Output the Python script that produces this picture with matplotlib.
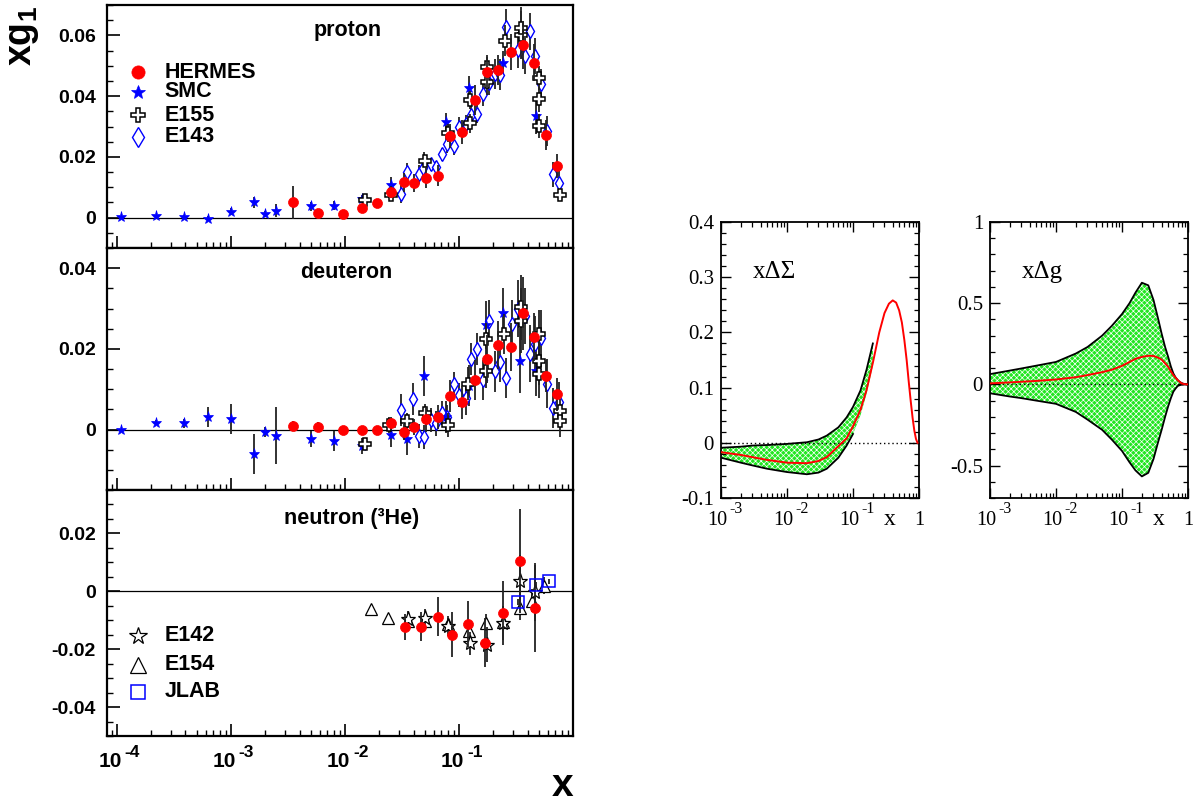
import numpy as np
import matplotlib
matplotlib.use('Agg')
import matplotlib.pyplot as plt
import matplotlib.transforms as mtransforms
from matplotlib.ticker import LogLocator, MultipleLocator, NullFormatter

plt.rcParams['font.family'] = ['Liberation Sans', 'DejaVu Sans']
plt.rcParams['mathtext.fontset'] = 'custom'
plt.rcParams['mathtext.bf'] = 'Liberation Sans:bold'
plt.rcParams['mathtext.rm'] = 'Liberation Serif'
plt.rcParams['mathtext.it'] = 'Liberation Serif:italic'
plt.rcParams['hatch.linewidth'] = 0.5

# ---------------- proton ----------------
p_smc_x = [1.09e-4, 2.2e-4, 3.9e-4, 6.3e-4, 1.0e-3, 1.6e-3, 2.0e-3, 2.5e-3, 5.0e-3, 8.1e-3,
           0.0141, 0.0252, 0.0493, 0.0774, 0.1216, 0.243, 0.477]
p_smc_y = [0.0003, 0.0004, 0.0002, -0.0003, 0.002, 0.005, 0.0011, 0.0023, 0.0037, 0.0039,
           0.006, 0.0108, 0.0187, 0.0316, 0.0427, 0.0509, 0.0336]
p_smc_e = [0.0003, 0.0004, 0.0006, 0.0007, 0.0012, 0.0018, 0.001, 0.0022, 0.0015, 0.0015,
           0.0013, 0.0025, 0.003, 0.003, 0.004, 0.004, 0.006]

p_her_x = [3.5e-3, 5.8e-3, 9.6e-3, 0.0142, 0.019, 0.0252, 0.033, 0.0403, 0.051, 0.065,
           0.0828, 0.107, 0.137, 0.175, 0.221, 0.284, 0.364, 0.455, 0.584, 0.729]
p_her_y = [0.005, 0.0014, 0.0013, 0.0033, 0.0047, 0.0085, 0.0116, 0.0113, 0.0131, 0.0138,
           0.0268, 0.0281, 0.0387, 0.048, 0.0487, 0.0546, 0.0568, 0.051, 0.0272, 0.017]
p_her_e = [0.0055, 0.0012, 0.0012, 0.0012, 0.0015, 0.002, 0.003, 0.003, 0.0035, 0.0035,
           0.004, 0.004, 0.005, 0.005, 0.005, 0.006, 0.008, 0.006, 0.005, 0.004]

p_e155_x = [0.0151, 0.0252, 0.05, 0.0795, 0.124, 0.126, 0.176, 0.176, 0.254, 0.352, 0.352,
            0.504, 0.504, 0.504, 0.764]
p_e155_y = [0.0058, 0.0074, 0.0186, 0.0279, 0.0388, 0.031, 0.0495, 0.0445, 0.0583, 0.0601,
            0.0623, 0.046, 0.0389, 0.0302, 0.0074]
p_e155_e = [0.0012, 0.0015, 0.002, 0.003, 0.003, 0.003, 0.004, 0.004, 0.005, 0.008, 0.007,
            0.004, 0.004, 0.004, 0.002]

p_e143_x = [0.0312, 0.0352, 0.0443, 0.0481, 0.0564, 0.0633, 0.0715, 0.0788, 0.0897, 0.101,
            0.1145, 0.128, 0.144, 0.163, 0.184, 0.206, 0.231, 0.26, 0.33, 0.377, 0.417,
            0.469, 0.527, 0.595, 0.668, 0.754]
p_e143_y = [0.0078, 0.0151, 0.0142, 0.0162, 0.0175, 0.0167, 0.0208, 0.0244, 0.0235, 0.03,
            0.0309, 0.0337, 0.0342, 0.0408, 0.0444, 0.0473, 0.0471, 0.0628, 0.0552, 0.0533,
            0.0613, 0.0533, 0.044, 0.0285, 0.0142, 0.0113]
p_e143_e = [0.003, 0.003, 0.003, 0.002, 0.002, 0.002, 0.002, 0.003, 0.003, 0.003,
            0.003, 0.003, 0.003, 0.004, 0.004, 0.005, 0.005, 0.006, 0.006, 0.006,
            0.006, 0.006, 0.005, 0.005, 0.004, 0.004]

# ---------------- deuteron ----------------
d_smc_x = [1.09e-4, 2.2e-4, 3.9e-4, 6.3e-4, 1.0e-3, 1.6e-3, 2.0e-3, 2.5e-3, 5.0e-3, 8.1e-3,
           0.0141, 0.0252, 0.0352, 0.0493, 0.0774, 0.1216, 0.174, 0.243, 0.345, 0.477]
d_smc_y = [-0.0002, 0.0017, 0.0015, 0.0031, 0.0026, -0.0061, -0.0006, -0.0015, -0.0024, -0.0029,
           -0.0041, -0.0014, -0.0024, 0.0133, 0.0031, 0.0109, 0.0259, 0.029, 0.0171, 0.0144]
d_smc_e = [0.0004, 0.0007, 0.0012, 0.0025, 0.0038, 0.005, 0.0012, 0.007, 0.002, 0.0025,
           0.002, 0.003, 0.004, 0.005, 0.004, 0.005, 0.006, 0.006, 0.008, 0.006]

d_her_x = p_her_x
d_her_y = [0.0009, 0.0007, -0.0002, -0.0001, -0.0001, 0.0015, -0.0007, 0.0007, 0.0025, 0.0031,
           0.0083, 0.0067, 0.0122, 0.0175, 0.021, 0.0204, 0.0288, 0.023, 0.0132, 0.0087]
d_her_e = [0.0012, 0.0012, 0.001, 0.001, 0.001, 0.0015, 0.002, 0.002, 0.003, 0.003,
           0.004, 0.004, 0.005, 0.006, 0.006, 0.006, 0.009, 0.006, 0.004, 0.004]

d_e155_x = [0.0151, 0.0245, 0.0352, 0.05, 0.08, 0.12, 0.174, 0.174, 0.25, 0.352, 0.352,
            0.504, 0.504, 0.504, 0.764, 0.764]
d_e155_y = [-0.0035, 0.0012, 0.0021, 0.0042, 0.0011, 0.0114, 0.0225, 0.0144, 0.0237, 0.0303,
            0.027, 0.0237, 0.0171, 0.0138, 0.0045, 0.0021]
d_e155_e = [0.0015, 0.002, 0.002, 0.002, 0.003, 0.004, 0.004, 0.004, 0.005, 0.008,
            0.008, 0.006, 0.006, 0.006, 0.003, 0.004]

d_e143_x = [0.0312, 0.0397, 0.0443, 0.0493, 0.0564, 0.0633, 0.0715, 0.0788, 0.0897, 0.101,
            0.1145, 0.128, 0.144, 0.163, 0.184, 0.206, 0.231, 0.26, 0.29, 0.33,
            0.377, 0.417, 0.469, 0.527, 0.595, 0.668, 0.754]
d_e143_y = [0.0048, 0.0075, -0.0016, -0.0018, 0.0023, 0.0015, 0.004, 0.0031, 0.0112, 0.0085,
            0.0077, 0.0175, 0.02, 0.0122, 0.027, 0.0144, 0.0167, 0.0128, 0.0262, 0.03,
            0.0282, 0.0188, 0.0212, 0.0226, 0.0114, 0.0053, 0.0068]
d_e143_e = [0.004, 0.004, 0.003, 0.003, 0.003, 0.003, 0.003, 0.003, 0.003, 0.003,
            0.004, 0.004, 0.004, 0.005, 0.005, 0.005, 0.005, 0.005, 0.006, 0.007,
            0.007, 0.007, 0.007, 0.007, 0.006, 0.005, 0.005]

# ---------------- neutron (3He) ----------------
n_e154_x = [0.017, 0.0241, 0.0357, 0.05, 0.08, 0.123, 0.174, 0.243, 0.345, 0.438, 0.56]
n_e154_y = [-0.0062, -0.0091, -0.0102, -0.0102, -0.0114, -0.0137, -0.0108, -0.0106, -0.0059, -0.0033, 0.002]
n_e154_e = [0.0012, 0.0012, 0.0015, 0.0018, 0.002, 0.0025, 0.003, 0.003, 0.004, 0.004, 0.003]

n_e142_x = [0.0357, 0.05, 0.08, 0.126, 0.176, 0.243, 0.345, 0.46]
n_e142_y = [-0.0097, -0.0091, -0.012, -0.018, -0.0184, -0.011, 0.0037, -0.0003]
n_e142_e = [0.003, 0.003, 0.0035, 0.004, 0.006, 0.006, 0.009, 0.01]

n_her_x = [0.0334, 0.0467, 0.0654, 0.0875, 0.119, 0.17, 0.243, 0.345, 0.46]
n_her_y = [-0.0122, -0.0123, -0.0088, -0.015, -0.0114, -0.0177, -0.0076, 0.0106, -0.0059]
n_her_e = [0.0045, 0.005, 0.0067, 0.0077, 0.0079, 0.0085, 0.011, 0.018, 0.015]

n_jlab_x = [0.33, 0.47, 0.61]
n_jlab_y = [-0.0038, 0.0022, 0.0034]
n_jlab_e = [0.001, 0.001, 0.001]

# ---------------- x*DeltaSigma ----------------
sig_x = [1e-3, 2e-3, 3e-3, 5e-3, 1e-2, 2e-2, 3e-2, 4e-2, 6e-2, 8e-2, 0.1, 0.13, 0.16, 0.2,
         0.25, 0.3, 0.35, 0.4, 0.45, 0.5, 0.55, 0.6, 0.65, 0.7, 0.75, 0.8, 0.85, 0.9, 0.95]
sig_c = [-0.017, -0.022, -0.026, -0.031, -0.036, -0.037, -0.033, -0.026, -0.006, 0.008, 0.03,
         0.06, 0.095, 0.145, 0.2, 0.235, 0.252, 0.258, 0.254, 0.24, 0.218, 0.186, 0.15,
         0.11, 0.075, 0.045, 0.022, 0.007, 0.0]
sig_bx = [1e-3, 2e-3, 3e-3, 5e-3, 1e-2, 2e-2, 3e-2, 4e-2, 6e-2, 8e-2, 0.1, 0.13, 0.16, 0.2]
sig_hi = [-0.009, -0.007, -0.005, -0.004, -0.002, 0.001, 0.006, 0.013, 0.028, 0.046, 0.065,
          0.095, 0.132, 0.18]
sig_lo = [-0.027, -0.036, -0.041, -0.047, -0.053, -0.057, -0.054, -0.047, -0.027, -0.005, 0.016,
          0.05, 0.088, 0.14]

# ---------------- x*Delta g ----------------
g_x = [1e-3, 2e-3, 3e-3, 5e-3, 1e-2, 2e-2, 3e-2, 5e-2, 0.07, 0.1, 0.13, 0.16, 0.2, 0.25, 0.3,
       0.35, 0.4, 0.45, 0.5, 0.55, 0.6, 0.65, 0.7, 0.75, 0.8, 0.85, 0.9, 0.95, 1.0]
g_c = [0.006, 0.012, 0.016, 0.021, 0.03, 0.044, 0.057, 0.075, 0.09, 0.114, 0.138, 0.157, 0.169,
       0.176, 0.175, 0.165, 0.152, 0.13, 0.108, 0.08, 0.057, 0.04, 0.026, 0.015, 0.006, 0.003,
       0.001, 0.0, 0.0]
g_hi = [0.063, 0.085, 0.098, 0.115, 0.138, 0.19, 0.23, 0.3, 0.36, 0.433, 0.5, 0.565, 0.626, 0.61,
        0.52, 0.41, 0.31, 0.23, 0.17, 0.11, 0.067, 0.042, 0.026, 0.015, 0.008, 0.004, 0.002, 0.0, 0.0]
g_lo = [-0.055, -0.075, -0.085, -0.1, -0.12, -0.17, -0.217, -0.28, -0.34, -0.41, -0.48, -0.53,
        -0.567, -0.545, -0.46, -0.36, -0.278, -0.2, -0.136, -0.085, -0.045, -0.025, -0.01,
        -0.005, -0.002, -0.001, 0.0, 0.0, 0.0]

styles = {
    'HERMES': dict(marker='o', ms=7.2, mfc='red', mec='red', mew=0.5, zorder=6),
    'SMC': dict(marker='*', ms=8, mfc='blue', mec='blue', mew=0.5, zorder=4),
    'E155': dict(marker='P', ms=8, mfc='white', mec='black', mew=1.1, zorder=5),
    'E143': dict(marker='d', ms=7.5, mfc='white', mec='blue', mew=1.0, zorder=4),
    'E142': dict(marker='*', ms=11, mfc='white', mec='black', mew=0.9, zorder=5),
    'E154': dict(marker='^', ms=8.5, mfc='white', mec='black', mew=0.9, zorder=4),
    'JLAB': dict(marker='s', ms=8, mfc='none', mec='blue', mew=1.1, zorder=6),
}
legend_ms = {'HERMES': 9.5, 'SMC': 10, 'E155': 10, 'E143': 10,
             'E142': 13, 'E154': 11, 'JLAB': 10.5}


def draw_set(ax, name, x, y, e):
    st = styles[name]
    ax.errorbar(x, y, yerr=e, fmt='none', ecolor='#222222', elinewidth=1.3, capsize=0,
                zorder=st['zorder'] - 1)
    ax.plot(x, y, ls='none', **st)


def legend_rows(ax, names, ys):
    for n, yy in zip(names, ys):
        st = dict(styles[n])
        st['zorder'] = 8
        st['ms'] = legend_ms[n]
        ax.plot([0.066], [yy], ls='none', transform=ax.transAxes, clip_on=False, **st)
        ax.text(0.124, yy, n, transform=ax.transAxes, fontsize=15.5, fontweight='bold',
                va='center', ha='left')


def decade_labels(ax, decades, exps, base_dy, exp_dy, fs, efs, dx1, dx2, **kw):
    # ROOT-like "10" with a detached exponent
    tr = mtransforms.blended_transform_factory(ax.transData, ax.transAxes)
    for d, k in zip(decades, exps):
        t1 = mtransforms.offset_copy(tr, fig=ax.figure, x=dx1, y=base_dy, units='dots')
        t2 = mtransforms.offset_copy(tr, fig=ax.figure, x=dx2, y=exp_dy, units='dots')
        ax.text(d, 0, '10', transform=t1, ha='right', va='baseline', fontsize=fs, **kw)
        ax.text(d, 0, k, transform=t2, ha='left', va='baseline', fontsize=efs, **kw)


def setup_left(ax, ylim, yt, ylab, show_x):
    ax.set_xscale('log')
    ax.set_xlim(8.2e-5, 1.0)
    ax.set_ylim(*ylim)
    ax.axhline(0, color='black', lw=0.9, zorder=1)
    ax.set_yticks(yt, ylab, fontsize=14, fontweight='bold')
    ax.yaxis.set_minor_locator(MultipleLocator(0.005))
    ax.set_xticks([1e-4, 1e-3, 1e-2, 1e-1], ['', '', '', ''])
    if show_x:
        decade_labels(ax, [1e-4, 1e-3, 1e-2, 1e-1], ['-4', '-3', '-2', '-1'],
                      -31, -21, 15, 12.5, 5, 8, fontweight='bold')
    ax.xaxis.set_minor_locator(LogLocator(base=10, subs=np.arange(2, 10), numticks=30))
    ax.xaxis.set_minor_formatter(NullFormatter())
    ax.tick_params(which='both', direction='in', top=False, right=False)
    ax.tick_params(which='major', length=9, width=1.2)
    ax.tick_params(which='minor', length=4.5, width=1.0)
    ax.tick_params(axis='y', which='major', pad=8)
    for s in ax.spines.values():
        s.set_linewidth(1.6)


fig = plt.figure(figsize=(11.96, 8.02), dpi=100)
L, W = 107 / 1196, 466 / 1196
ax_p = fig.add_axes([L, 1 - 248 / 802, W, 243 / 802])
ax_d = fig.add_axes([L, 1 - 490 / 802, W, 242 / 802])
ax_n = fig.add_axes([L, 1 - 736 / 802, W, 246 / 802])

# proton
setup_left(ax_p, (-0.01, 0.07), [0, 0.02, 0.04, 0.06], ['0', '0.02', '0.04', '0.06'], False)
draw_set(ax_p, 'E143', p_e143_x, p_e143_y, p_e143_e)
draw_set(ax_p, 'SMC', p_smc_x, p_smc_y, p_smc_e)
draw_set(ax_p, 'E155', p_e155_x, p_e155_y, p_e155_e)
draw_set(ax_p, 'HERMES', p_her_x, p_her_y, p_her_e)
ax_p.text(0.517, 0.897, 'proton', transform=ax_p.transAxes, fontsize=15.5,
          fontweight='bold', ha='center', va='center')
legend_rows(ax_p, ['HERMES', 'SMC', 'E155', 'E143'], [0.724, 0.642, 0.547, 0.457])

# deuteron
setup_left(ax_d, (-0.015, 0.045), [0, 0.02, 0.04], ['0', '0.02', '0.04'], False)
draw_set(ax_d, 'E143', d_e143_x, d_e143_y, d_e143_e)
draw_set(ax_d, 'SMC', d_smc_x, d_smc_y, d_smc_e)
draw_set(ax_d, 'E155', d_e155_x, d_e155_y, d_e155_e)
draw_set(ax_d, 'HERMES', d_her_x, d_her_y, d_her_e)
ax_d.text(0.513, 0.897, 'deuteron', transform=ax_d.transAxes, fontsize=15.5,
          fontweight='bold', ha='center', va='center')

# neutron
setup_left(ax_n, (-0.05, 0.035), [-0.04, -0.02, 0, 0.02], ['-0.04', '-0.02', '0', '0.02'], True)
draw_set(ax_n, 'E154', n_e154_x, n_e154_y, n_e154_e)
draw_set(ax_n, 'E142', n_e142_x, n_e142_y, n_e142_e)
draw_set(ax_n, 'JLAB', n_jlab_x, n_jlab_y, n_jlab_e)
draw_set(ax_n, 'HERMES', n_her_x, n_her_y, n_her_e)
ax_n.text(0.524, 0.886, 'neutron (³He)', transform=ax_n.transAxes, fontsize=15.5,
          fontweight='bold', ha='center', va='center')
legend_rows(ax_n, ['E142', 'E154', 'JLAB'], [0.407, 0.289, 0.179])

fig.text(23 / 1196, 1 - 36 / 802, r'$\mathbf{xg_1}$', rotation=90, fontsize=27,
         ha='center', va='center')
fig.text(563 / 1196, 1 - 786 / 802, 'x', fontsize=28, fontweight='bold',
         ha='center', va='center')


# ---------------- right panels ----------------
def setup_right(ax, ylim, yt, ylab, minor):
    ax.set_xscale('log')
    ax.set_xlim(1e-3, 1.0)
    ax.set_ylim(*ylim)
    ax.axhline(0, color='black', lw=1.0, ls=(0, (1, 2)), zorder=2)
    ax.set_yticks(yt, ylab, fontsize=15, fontfamily='Liberation Serif')
    ax.yaxis.set_minor_locator(MultipleLocator(minor))
    ax.set_xticks([1e-3, 1e-2, 1e-1, 1.0], ['', '', '', ''])
    decade_labels(ax, [1e-3, 1e-2, 1e-1], ['-3', '-2', '-1'], -27, -15, 14.5, 11.5, 6, 8,
                  fontfamily='Liberation Serif')
    tr = mtransforms.blended_transform_factory(ax.transData, ax.transAxes)
    t0 = mtransforms.offset_copy(tr, fig=ax.figure, x=0, y=-27, units='dots')
    ax.text(1.0, 0, '1', transform=t0, ha='center', va='baseline', fontsize=14.5,
            fontfamily='Liberation Serif')
    ax.text(0.36, 0, 'x', transform=t0, ha='center', va='baseline', fontsize=17,
            fontfamily='Liberation Serif')
    ax.xaxis.set_minor_locator(LogLocator(base=10, subs=np.arange(2, 10), numticks=30))
    ax.xaxis.set_minor_formatter(NullFormatter())
    ax.tick_params(which='both', direction='in', top=True, right=True)
    ax.tick_params(which='major', length=7, width=1.0, pad=5)
    ax.tick_params(which='minor', length=3.5, width=0.9)
    for s in ax.spines.values():
        s.set_linewidth(1.3)


ax_s = fig.add_axes([721 / 1196, 1 - 498 / 802, 198 / 1196, 276 / 802])
setup_right(ax_s, (-0.1, 0.4), [-0.1, 0, 0.1, 0.2, 0.3, 0.4],
            ['-0.1', '0', '0.1', '0.2', '0.3', '0.4'], 0.02)
ax_s.fill_between(sig_bx, sig_lo, sig_hi, facecolor='#22e622', edgecolor='white',
                  hatch='xxxxxx', lw=0, zorder=1)
ax_s.plot(sig_bx, sig_hi, color='black', lw=1.3, zorder=3)
ax_s.plot(sig_bx[:11], sig_lo[:11], color='black', lw=1.3, zorder=3)
ax_s.plot(sig_x, sig_c, color='red', lw=1.4, zorder=4)
ax_s.text(0.16, 0.82, 'xΔΣ', transform=ax_s.transAxes, fontsize=18,
          fontfamily='Liberation Serif', ha='left', va='center')

ax_g = fig.add_axes([990 / 1196, 1 - 498 / 802, 198 / 1196, 276 / 802])
setup_right(ax_g, (-0.7, 1.0), [-0.5, 0, 0.5, 1.0], ['-0.5', '0', '0.5', '1'], 0.1)
ax_g.fill_between(g_x, g_lo, g_hi, facecolor='#22e622', edgecolor='white',
                  hatch='xxxxxx', lw=0, zorder=1)
ax_g.plot(g_x, g_hi, color='black', lw=1.3, zorder=3)
ax_g.plot(g_x, g_lo, color='black', lw=1.3, zorder=3)
ax_g.plot(g_x, g_c, color='red', lw=1.4, zorder=4)
ax_g.text(0.16, 0.82, 'xΔg', transform=ax_g.transAxes, fontsize=18,
          fontfamily='Liberation Serif', ha='left', va='center')

fig.savefig('out.png', dpi=100)
